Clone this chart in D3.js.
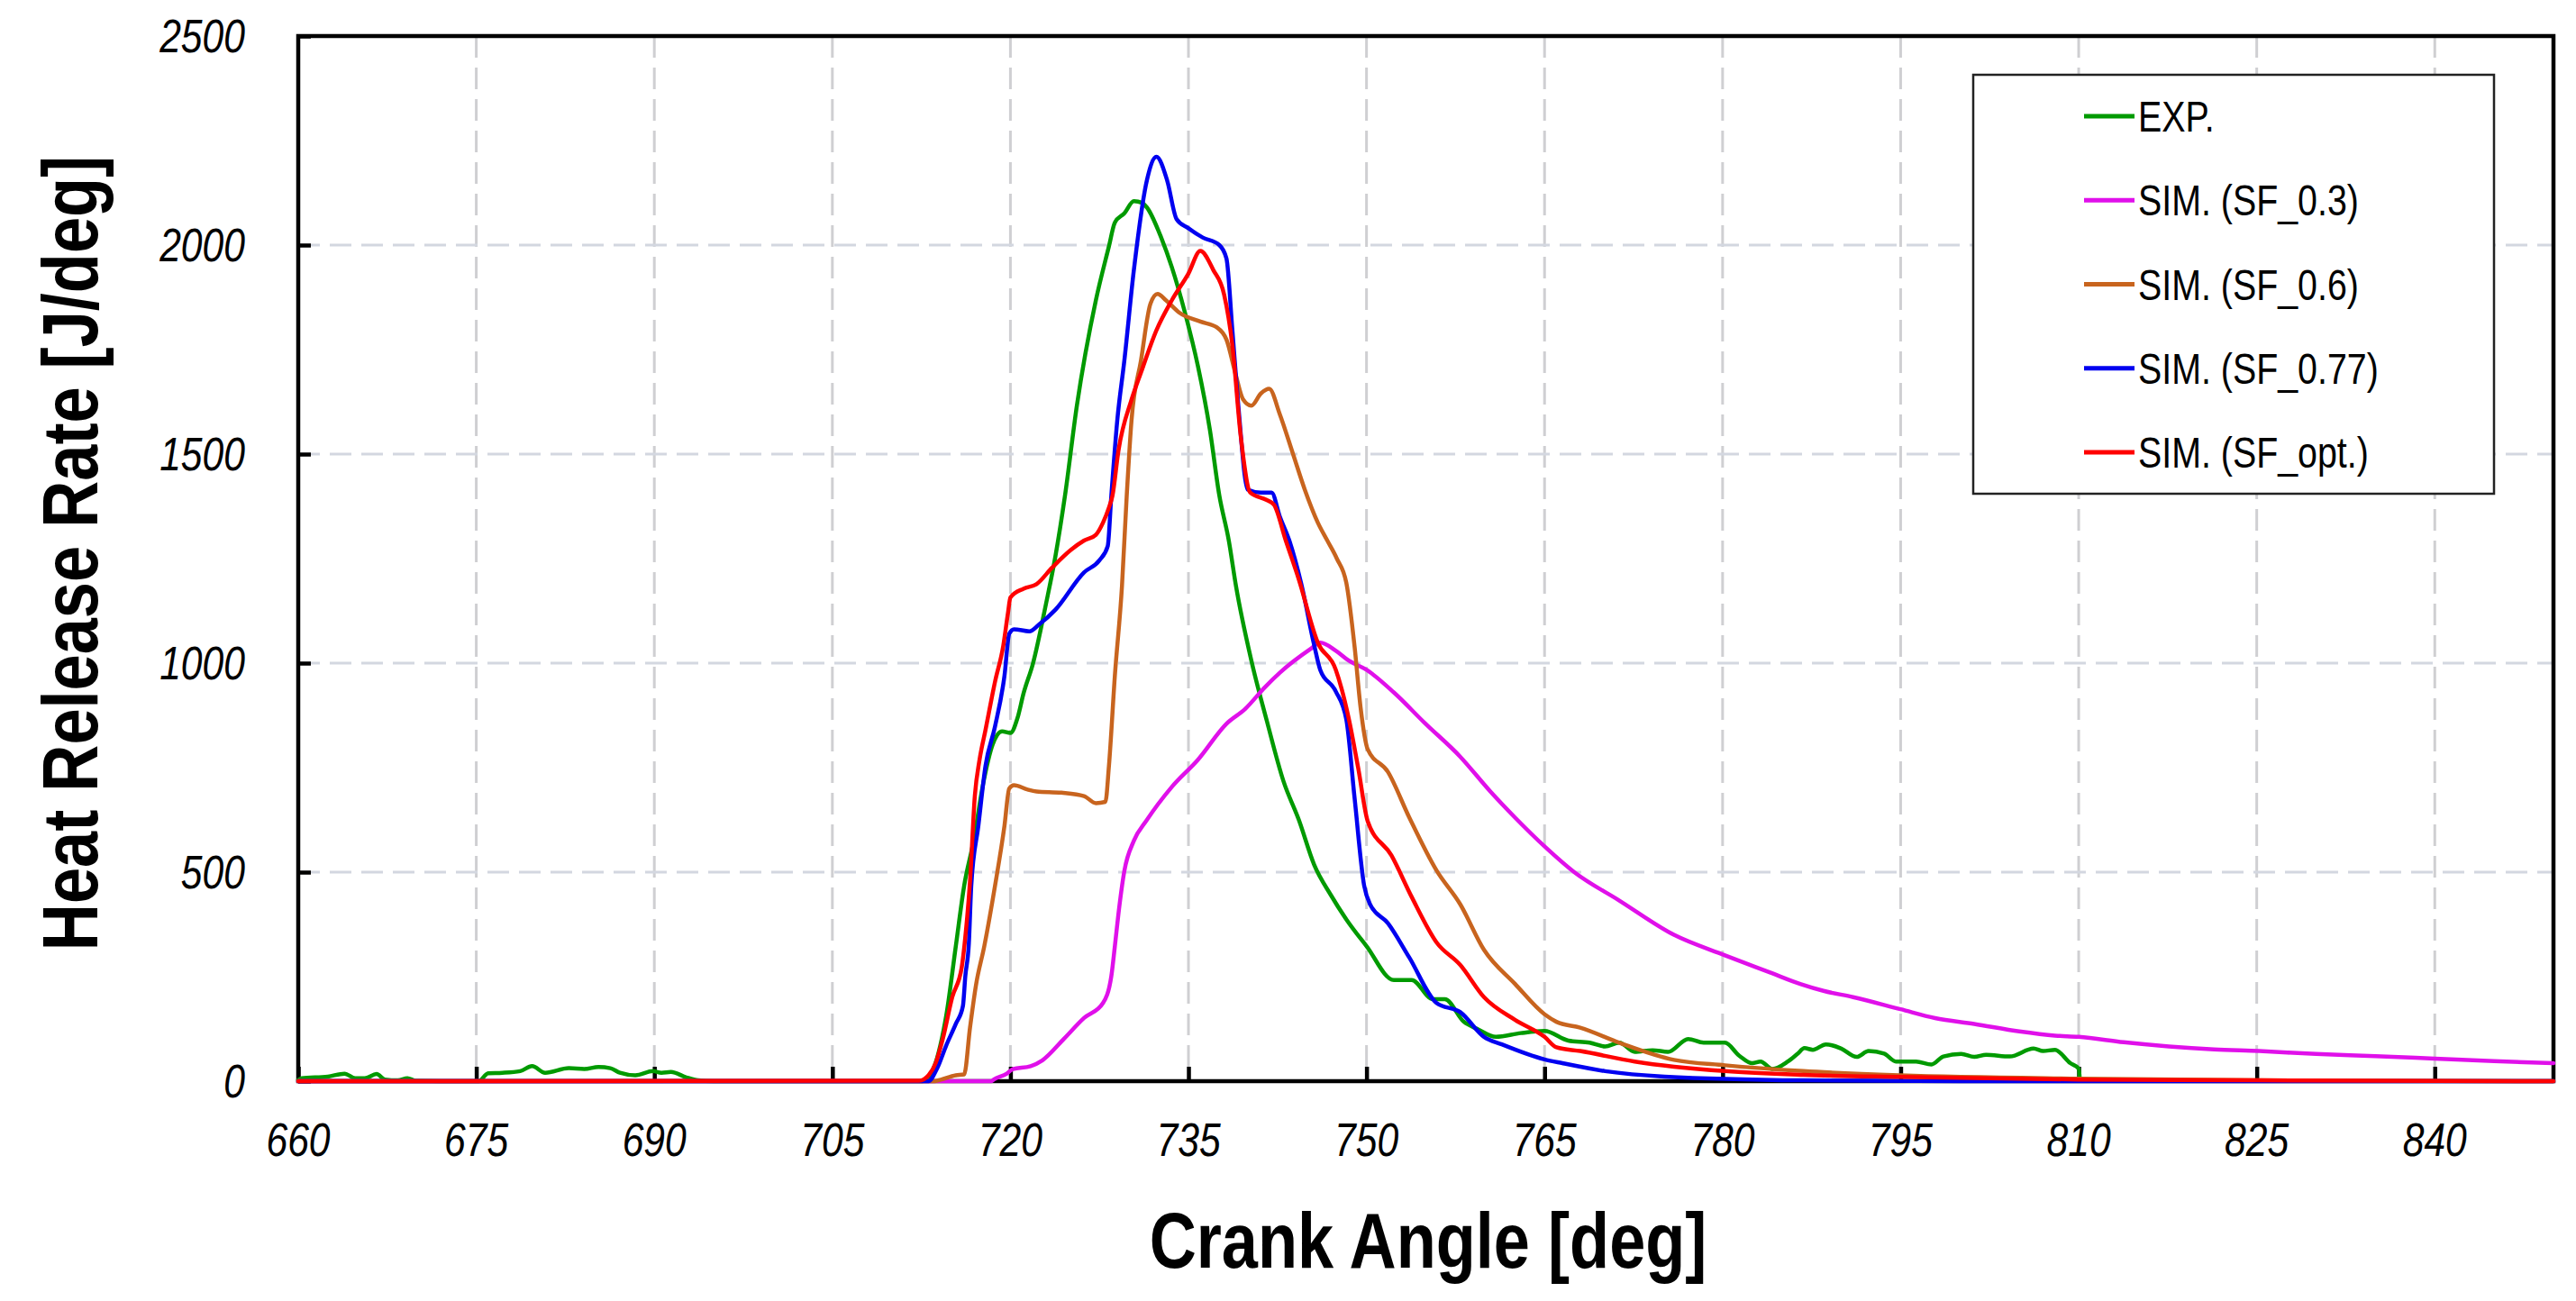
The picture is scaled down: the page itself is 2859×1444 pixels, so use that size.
<!DOCTYPE html>
<html><head><meta charset="utf-8">
<script src="https://cdn.jsdelivr.net/npm/d3@7"></script>
<style>html,body{margin:0;padding:0;background:#fff;}svg{display:block;}</style>
</head><body>
<script>
// ---------- DATA (crank angle [deg], heat release rate [J/deg]) ----------
const xTicks = [660,675,690,705,720,735,750,765,780,795,810,825,840];
const yTicks = [0,500,1000,1500,2000,2500];
const seriesNames = ["EXP.","SIM. (SF_0.3)","SIM. (SF_0.6)","SIM. (SF_0.77)","SIM. (SF_opt.)"];

const expData = [
[660,3],[660.3,7],[662.5,11],[663.9,18],[664.8,7],[665.6,7],[666.6,17],[667.3,4],[668.4,2],[669.2,7],[669.9,1],[672,0],[675.2,0],
[676.0,19],[677.2,20],[678.7,24],[679.7,36],[680.8,20],[682.8,31],[684.1,29],[685.3,34],[686.3,31],[687.1,20],[688.4,14],
[689.9,24],[690.6,20],[691.4,22],[692.7,9],[693.7,2],[695,0],[712.6,0],[713.6,36],[714.1,86],[714.6,158],[715.4,323],
[716.1,467],[716.9,575],[717.7,711],[718.5,805],[719.3,837],[720.0,833],[720.6,869],[721.1,927],[721.9,999],[723.0,1142],
[723.8,1257],[724.6,1401],[725.6,1616],[727.2,1868],[728.3,1997],[728.8,2054],[729.6,2076],[730.4,2105],[731.1,2101],
[731.5,2090],[732.7,2018],[733.6,1947],[734.7,1839],[735.8,1710],[736.8,1559],[737.6,1401],[738.4,1293],[739.0,1185],
[740.3,1006],[741.6,862],[743.0,718],[744.3,625],[745.6,517],[747.0,445],[748.3,387],[750.0,323],[752.3,242],[753.8,242],
[755.6,196],[756.6,196],[758.2,142],[759.4,124],[760.9,106],[763.0,115],[765.0,120],[767.0,97],[768.8,92],[770.1,83],
[771.3,92],[772.6,70],[774.1,74],[775.4,70],[777.1,101],[778.4,92],[780.2,92],[781.4,61],[782.5,43],[783.2,47],[784.2,29],
[785.5,47],[786.3,65],[786.9,79],[787.6,75],[788.7,88],[790.0,78],[791.3,58],[792.3,72],[793.6,66],[794.6,47],[796.3,47],
[797.6,40],[798.6,59],[800.1,65],[801.2,58],[802.2,63],[804.2,59],[806.2,78],[807.0,72],[808.0,75],[809.3,43],[810.0,30],[810.1,3]
];

const sf03Data = [
[660,0],[718.4,0],[718.6,4],[719.7,18],[720.2,29],[721.7,36],[722.7,50],[724.5,101],[726.2,151],[727.8,187],[728.5,251],
[728.8,323],[729.1,400],[729.6,503],[730.4,575],[731.5,625],[733.6,704],[735.8,769],[738.2,855],[739.8,891],[741.4,941],
[742.7,977],[745.3,1034],[746.1,1049],[747.4,1030],[748.5,1006],[750.0,984],[752.3,930],[754.9,857],[757.9,776],[760.4,694],
[762.5,631],[765.1,559],[767.5,500],[771.3,432],[775.9,350],[780.2,301],[784.0,260],[786.6,232],[788.5,216],[791.0,201],
[795.0,172],[797.9,151],[801.2,137],[805.0,119],[808.0,109],[810,106],[813.8,93],[817.6,83],[821.4,76],[825.2,72],[830,65],
[835,60],[840,54],[845,48],[850,43]
];

const sf06Data = [
[660,0],[713.5,0],[713.8,1],[715.4,14],[716.1,16],[716.6,129],[717.1,230],[717.8,323],[718.7,467],[719.5,611],[719.9,700],
[720.3,708],[721.4,698],[722.2,693],[724.3,690],[726.2,682],[727.2,665],[728.0,668],[728.3,754],[728.8,970],[729.4,1185],
[729.8,1401],[730.2,1580],[731.0,1724],[731.8,1860],[732.4,1883],[733.1,1868],[734.2,1839],[736.0,1817],[737.4,1803],
[738.2,1774],[739.0,1688],[739.6,1631],[740.3,1616],[741.1,1645],[741.8,1656],[742.7,1595],[743.8,1501],[744.8,1415],
[745.9,1336],[746.7,1293],[747.5,1250],[748.3,1192],[749.0,1038],[749.5,894],[750.1,794],[751.8,740],[753.6,631],[755.9,504],
[757.9,423],[759.9,314],[762.5,233],[765.0,160],[766.0,142],[768.0,128],[771.3,92],[775.9,51],[780.2,38],[786.8,24],
[795,14],[810,6],[825,2],[850,0]
];

const sf077Data = [
[660,0],[713.1,0],[713.8,29],[714.6,86],[715.4,137],[716.0,180],[716.2,251],[716.5,330],[716.7,467],[717.3,611],[717.9,754],
[718.7,848],[719.5,970],[719.9,1070],[720.3,1081],[721.6,1076],[722.4,1092],[723.8,1128],[726.2,1217],[727.5,1246],[728.2,1280],
[728.5,1400],[729.0,1580],[729.6,1724],[730.4,1940],[731.5,2155],[732.3,2211],[733.2,2155],[734.0,2062],[735.0,2040],
[736.2,2018],[737.6,2000],[738.2,1968],[738.7,1796],[739.2,1616],[740.0,1415],[741.1,1408],[742.0,1408],[742.7,1350],
[743.5,1293],[744.5,1190],[745.6,1042],[746.1,984],[747.4,933],[748.3,865],[749.0,676],[749.8,468],[750.3,423],[751.8,378],
[753.6,296],[755.9,187],[757.9,165],[759.9,106],[761.4,88],[765.0,52],[766.5,43],[770.1,24],[775.1,11],[786.8,2],[800,0],[850,0]
];

const sfOptData = [
[660,0],[712.3,1],[713.1,14],[713.7,43],[714.3,101],[715.1,201],[715.9,273],[716.2,345],[716.6,480],[717.0,682],[717.4,769],
[717.9,840],[718.7,955],[719.4,1042],[719.8,1121],[720.0,1157],[721.1,1178],[722.2,1189],[723.5,1228],[725.1,1271],[726.2,1293],
[727.2,1307],[727.8,1336],[728.3,1372],[728.6,1401],[729.1,1508],[730.2,1630],[731.0,1695],[732.3,1796],[733.6,1868],
[735.0,1932],[736.0,1986],[737.1,1940],[738.0,1882],[738.7,1760],[739.4,1544],[740.2,1408],[741.6,1390],[742.2,1379],
[743.2,1293],[744.3,1200],[745.9,1049],[747.4,985],[748.5,868],[749.3,749],[750.1,622],[752.1,540],[753.8,441],[755.9,332],
[757.9,278],[759.9,201],[762.5,147],[765.0,106],[766.0,81],[768.0,72],[772.6,47],[780.2,24],[786.8,15],[795,10],[810,4],
[825,2],[850,0]
];

const seriesColors = ["#009a00","#e010ea","#c8641e","#0000f0","#ff0000"];
const seriesData = [expData, sf03Data, sf06Data, sf077Data, sfOptData];

// ---------- LAYOUT ----------
const W = 2859, H = 1444;
const L = 331, R = 2834, T = 40, B = 1200;

// font detection (Arial Narrow look)
function hasFont(name){
  const c = document.createElement('canvas').getContext('2d');
  const s = 'SIM. (SF_0.77) Heat 2500';
  c.font = '48px monospace'; const a = c.measureText(s).width;
  c.font = '48px "' + name + '", monospace'; const b = c.measureText(s).width;
  return Math.abs(a-b) > 1;
}
const narrow = hasFont('Liberation Sans Narrow');
const FAM = narrow ? '"Liberation Sans Narrow", "Arial Narrow", sans-serif' : '"Liberation Sans", Arial, sans-serif';
const SX = narrow ? 1 : 0.82;

const svg = d3.select("body").append("svg").attr("width", W).attr("height", H);
svg.append("rect").attr("width", W).attr("height", H).attr("fill", "#fff");

const x = d3.scaleLinear().domain([660, 850]).range([L, R]);
const y = d3.scaleLinear().domain([0, 2500]).range([B, T]);

// helper to place text with optional horizontal compression
function txt(g, px, py, s, opts){
  const t = g.append("text")
    .attr("transform", `translate(${px},${py})${opts.rotate?` rotate(${opts.rotate})`:''} scale(${SX},1)`)
    .attr("font-family", FAM)
    .attr("font-size", opts.size)
    .attr("font-style", opts.italic ? "italic" : "normal")
    .attr("font-weight", opts.bold ? "bold" : "normal")
    .attr("text-anchor", opts.anchor || "start")
    .attr("fill", "#000")
    .text(s);
  if (opts.dy) t.attr("dy", opts.dy);
  return t;
}

// grid
const grid = svg.append("g");
grid.selectAll("line.v").data(xTicks.filter(d => d > 660)).join("line")
  .attr("x1", d => x(d)).attr("x2", d => x(d)).attr("y1", T).attr("y2", B)
  .attr("stroke", "#cfcfd2").attr("stroke-width", 3).attr("stroke-dasharray", "24,11");
grid.selectAll("line.h").data(yTicks.filter(d => d > 0 && d < 2500)).join("line")
  .attr("x1", L).attr("x2", R).attr("y1", d => y(d)).attr("y2", d => y(d))
  .attr("stroke", "#d3d7e0").attr("stroke-width", 3).attr("stroke-dasharray", "24,11");

// axes (ticks inward), labels drawn separately
const xAxis = d3.axisBottom(x).tickValues(xTicks).tickSize(-16).tickFormat("");
const yAxis = d3.axisLeft(y).tickValues(yTicks).tickSize(-14).tickFormat("");
const gx = svg.append("g").attr("transform", `translate(0,${B})`).call(xAxis);
const gy = svg.append("g").attr("transform", `translate(${L},0)`).call(yAxis);
[gx, gy].forEach(g => {
  g.select(".domain").remove();
  g.selectAll(".tick line").attr("stroke", "#000").attr("stroke-width", 4.5);
});

// frame
svg.append("rect").attr("x", L).attr("y", T).attr("width", R - L).attr("height", B - T)
  .attr("fill", "none").attr("stroke", "#000").attr("stroke-width", 4.5);

// tick labels
const lab = svg.append("g");
xTicks.forEach(d => txt(lab, x(d), 1283, String(d), {size: 52, italic: true, anchor: "middle"}));
yTicks.forEach(d => txt(lab, 272, y(d) + 18, String(d), {size: 52, italic: true, anchor: "end"}));

// axis titles
txt(svg, 1585, 1407, "Crank Angle [deg]", {size: 88, bold: true, anchor: "middle"});
svg.append("text")
  .attr("transform", `translate(108,614) rotate(-90) scale(${SX},1)`)
  .attr("font-family", FAM).attr("font-size", 88).attr("font-weight", "bold")
  .attr("text-anchor", "middle").text("Heat Release Rate [J/deg]");

// lines
const line = d3.line().x(d => x(d[0])).y(d => y(d[1])).curve(d3.curveMonotoneX);
const lines = svg.append("g");
seriesData.forEach((data, i) => {
  lines.append("path").datum(data).attr("d", line)
    .attr("fill", "none").attr("stroke", seriesColors[i]).attr("stroke-width", 4.5)
    .attr("stroke-linejoin", "round").attr("stroke-linecap", "round");
});

// legend
const lg = svg.append("g");
lg.append("rect").attr("x", 2190).attr("y", 83).attr("width", 578).attr("height", 465)
  .attr("fill", "#fff").attr("stroke", "#222").attr("stroke-width", 2.5);
const rowY = d3.scalePoint().domain(seriesNames).range([129, 502]);
seriesNames.forEach((n, i) => {
  lg.append("line").attr("x1", 2313).attr("x2", 2369).attr("y1", rowY(n)).attr("y2", rowY(n))
    .attr("stroke", seriesColors[i]).attr("stroke-width", 5);
  txt(lg, 2373, rowY(n) + 17, n, {size: 48});
});
</script>
</body></html>
